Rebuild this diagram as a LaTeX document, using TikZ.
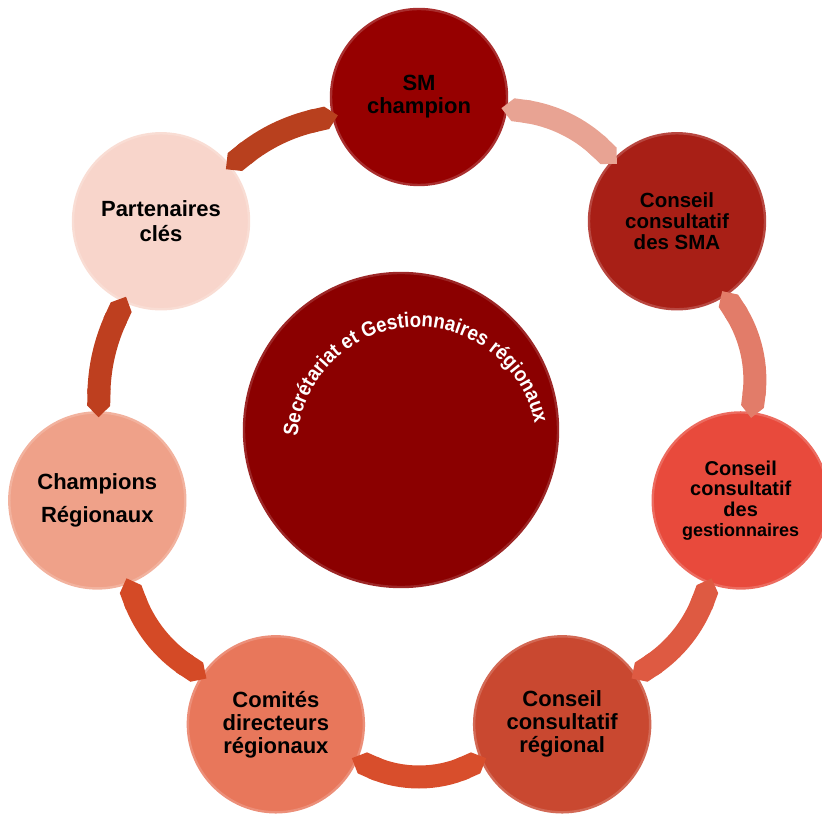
\documentclass[tikz,border=0pt]{standalone}
\usepackage{fontspec}
\setmainfont{Liberation Sans}
\newfontfamily\archfont[FakeStretch=0.9]{Liberation Sans}
\usetikzlibrary{arrows.meta}
\usetikzlibrary{decorations.text}
\definecolor{smred}{RGB}{150,0,0}
\definecolor{secred}{RGB}{139,0,0}
\definecolor{smared}{RGB}{168,31,22}
\definecolor{gestred}{RGB}{232,74,60}
\definecolor{regred}{RGB}{201,72,48}
\definecolor{comred}{RGB}{232,119,91}
\definecolor{chared}{RGB}{239,161,137}
\definecolor{parred}{RGB}{248,213,203}
\definecolor{linkA}{RGB}{232,163,147}
\definecolor{linkB}{RGB}{226,124,105}
\definecolor{linkC}{RGB}{222,90,66}
\definecolor{linkD}{RGB}{216,78,44}
\definecolor{linkE}{RGB}{212,74,38}
\definecolor{linkF}{RGB}{190,63,31}
\definecolor{linkG}{RGB}{184,64,30}

\begin{document}
\begin{tikzpicture}[x=0.5pt,y=0.5pt,
  stage/.style={circle, minimum size=88pt, inner sep=0pt, align=center, fill=#1, draw=#1!82!white, line width=1.2pt, font=\bfseries\fontsize{11}{11.5}\selectfont},
  link/.style={line width=11.5pt, draw=#1, {Triangle Cap[]}-{Triangle Cap[]}, shorten <=-3pt, shorten >=-3pt}]
\useasboundingbox (0,0) rectangle (822,813);
\coordinate (ring) at (419,386);
% centre
\node[circle, minimum size=157pt, inner sep=0pt, fill=secred, draw=secred!85!white, line width=1.2pt] (sec) at (401,383) {};
\path[decorate, decoration={text along path, text align=center,
  text={|\color{white}\archfont\bfseries\fontsize{10.4}{12}\selectfont|Secrétariat et Gestionnaires régionaux}}]
  ([shift={(16,-17)}]sec.center) ++(174:120) arc[start angle=174, end angle=12, radius=120];
% the seven circles
\node[stage=smred] (sm) at ([shift={(90:330)}]ring) {SM\\champion};
\node[stage=smared, font=\bfseries\fontsize{10.25}{10.5}\selectfont] (sma) at ([shift={(38.57:330)}]ring) {Conseil\\consultatif\\des SMA};
\node[stage=gestred, font=\bfseries\fontsize{10}{10.25}\selectfont] (gest) at ([shift={(-12.86:330)}]ring) {Conseil\\consultatif\\des\\{\fontsize{9}{10.25}\selectfont gestionnaires}};
\node[stage=regred] (reg) at ([shift={(-64.29:330)}]ring) {Conseil\\consultatif\\régional};
\node[stage=comred] (com) at ([shift={(-115.71:330)}]ring) {Comités\\directeurs\\régionaux};
\node[stage=chared] (cha) at ([shift={(-167.14:330)}]ring) {Champions\\[5pt]Régionaux};
\node[stage=parred, font=\bfseries\fontsize{11}{12.5}\selectfont] (par) at ([shift={(141.43:330)}]ring) {Partenaires\\clés};
% links round the ring
\draw[link=linkA] (sm) to[bend left=18] (sma);
\draw[link=linkB] (sma) to[bend left=20] (gest);
\draw[link=linkC] (gest) to[bend left=18] (reg);
\draw[link=linkD] (reg) to[bend left=24] (com);
\draw[link=linkE] (com) to[bend left=18] (cha);
\draw[link=linkF] (cha) to[bend left=12] (par);
\draw[link=linkG] (par) to[bend left=13] (sm);
\end{tikzpicture}
\end{document}
